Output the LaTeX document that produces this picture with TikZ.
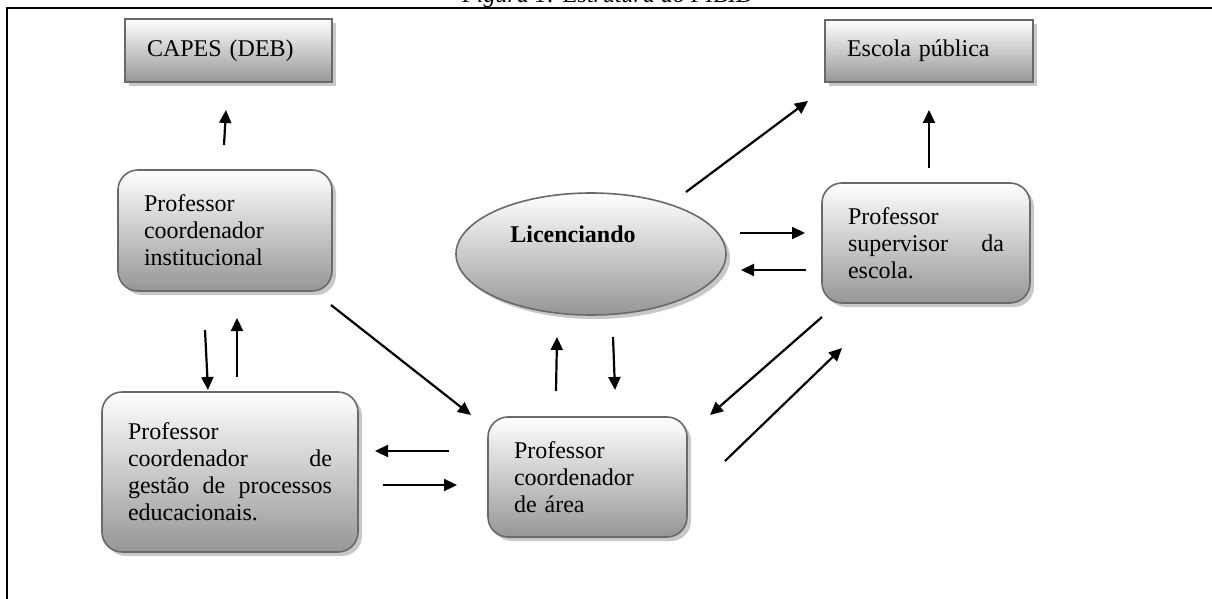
\documentclass[tikz,border=0pt]{standalone}
\usepackage{fontspec}
\setmainfont{Liberation Serif}
\usetikzlibrary{shapes, arrows.meta, shadows}
\definecolor{boxedge}{RGB}{105,105,105}
\definecolor{boxbot}{RGB}{150,150,150}
\definecolor{shadowgray}{RGB}{200,200,200}
\tikzset{
  fillbox/.style={draw=boxedge, line width=1.6pt, top color=white, bottom color=boxbot,
    drop shadow={shadow xshift=4pt, shadow yshift=-4pt, fill=shadowgray, opacity=1}},
  sqbox/.style={fillbox, rectangle, align=left, inner xsep=22pt, inner ysep=0pt},
  rbox/.style={fillbox, rectangle, rounded corners=20pt, align=left, inner xsep=26pt, inner ysep=0pt},
  lic/.style={fillbox, ellipse, minimum width=270pt, minimum height=122pt, inner sep=0pt},
  arr/.style={-{Triangle[length=13pt,width=12pt]}, line width=2.2pt},
}
\begin{document}
\begin{tikzpicture}[x=1pt,y=-1pt,font=\fontsize{24}{27}\selectfont]
\useasboundingbox (0,0) rectangle (1212,599);
% title and frame
\node[anchor=base,font=\fontsize{24}{27}\selectfont\itshape] (title) at (608,3) {Figura 1: Estrutura do PIBID};
\draw[line width=2pt] (7,602) -- (7,8) -- (1215,8);

% boxes
\node[sqbox, text width=163pt, minimum height=63pt] (capes) at (228.5,50.5) {CAPES (DEB)};
\node[sqbox, text width=164pt, minimum height=62pt] (escola) at (929,51) {Escola pública};
\node[rbox, text width=162pt, minimum height=121pt] (inst) at (225,230.5)
  {Professor\\coordenador\\institucional};
\node[rbox, text width=204pt, minimum height=160pt] (gestao) at (230,472)
  {Professor\\coordenador\hfill de\\gestão\hfill de\hfill processos\\educacionais.};
\node[rbox, text width=147pt, minimum height=120pt] (area) at (587.5,477)
  {Professor\\coordenador\\de área};
\node[rbox, text width=156pt, minimum height=120pt] (sup) at (926,243)
  {Professor\\supervisor\hfill da\\escola.};
\node[lic] (licenc) at (591,254) {};
\node[font=\fontsize{24}{27}\selectfont\bfseries] (lictext) at ([shift={(-18,-20)}]licenc.center) {Licenciando};

% arrow ends
\coordinate (c1) at (224,145); \coordinate (c2) at (226,110);
\coordinate (e1) at (929,168); \coordinate (e2) at (929,110);
\coordinate (le1) at (686,192); \coordinate (le2) at (808,101);
\coordinate (ls1) at (740,233); \coordinate (ls2) at (805,233);
\coordinate (sl1) at (806,270); \coordinate (sl2) at (741,270);
\coordinate (ia1) at (331,305); \coordinate (ia2) at (471,415);
\coordinate (ig1) at (205,330); \coordinate (ig2) at (208,390);
\coordinate (gi1) at (237,377); \coordinate (gi2) at (237,318);
\coordinate (ag1) at (449,451); \coordinate (ag2) at (375,451);
\coordinate (ga1) at (383,485); \coordinate (ga2) at (457,485);
\coordinate (al1) at (556,391); \coordinate (al2) at (557,337);
\coordinate (la1) at (613,337); \coordinate (la2) at (615,390);
\coordinate (sa1) at (822,317); \coordinate (sa2) at (710,415);
\coordinate (as1) at (725,461); \coordinate (as2) at (842,348);

\foreach \a/\b in {c1/c2, e1/e2, le1/le2, ls1/ls2, sl1/sl2, ia1/ia2, ig1/ig2,
  gi1/gi2, ag1/ag2, ga1/ga2, al1/al2, la1/la2, sa1/sa2, as1/as2}
  \draw[arr] (\a) -- (\b);
\end{tikzpicture}
\end{document}
